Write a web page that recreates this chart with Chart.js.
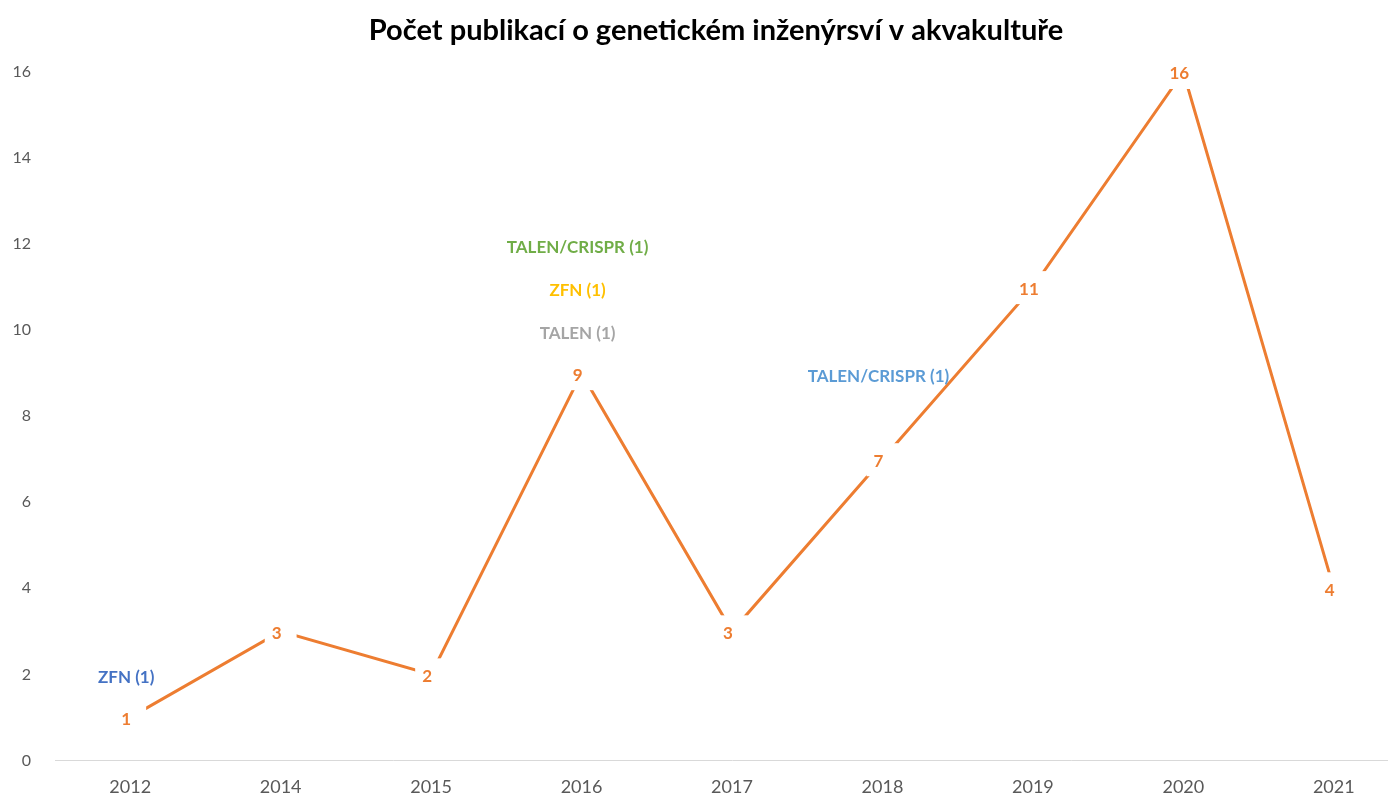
<!doctype html>
<html lang="cs">
<head>
  <title>Počet publikací</title>
  <meta charset="utf-8">
  <script src="https://cdn.jsdelivr.net/npm/chart.js@4"></script>
  <style>
    body { margin: 0; background: #fff; overflow: hidden; }
    #wrap { width: 1414px; height: 806px; }
  </style>
</head>
<body>
  <div id="wrap"><canvas id="pubChart"></canvas></div>

  <script>
    // data
    var years = ['2012', '2014', '2015', '2016', '2017', '2018', '2019', '2020', '2021'];
    var publications = [1, 3, 2, 9, 3, 7, 11, 16, 4];

    // method notes placed above the line (one value each)
    var zfnBlue = [2, null, null, null, null, null, null, null, null];
    var talenCrisprGreen = [null, null, null, 12, null, null, null, null, null];
    var zfnGold = [null, null, null, 11, null, null, null, null, null];
    var talenGray = [null, null, null, 10, null, null, null, null, null];
    var talenCrisprBlue = [null, null, null, null, null, 9, null, null, null];

    var yTicks = [0, 2, 4, 6, 8, 10, 12, 14, 16];

    var orange = '#ED7D31';

    function note(label, data, color) {
      return {
        label: label, data: data, showLine: false,
        pointRadius: 0, pointHoverRadius: 0,
        borderColor: color, backgroundColor: color, note: true
      };
    }

    // draws value labels (white box behind) and the note texts
    var labelPlugin = {
      id: 'labels',
      afterDatasetsDraw: function (chart) {
        var ctx = chart.ctx;
        ctx.save();
        ctx.textAlign = 'center';
        ctx.textBaseline = 'middle';
        chart.data.datasets.forEach(function (ds, i) {
          var meta = chart.getDatasetMeta(i);
          meta.data.forEach(function (pt, j) {
            var v = ds.data[j];
            if (v === null) return;
            if (ds.note) {
              ctx.font = 'bold 17px Lato';
              ctx.fillStyle = ds.borderColor;
              ctx.fillText(ds.label, pt.x - 4, pt.y + 3);
            } else {
              ctx.font = 'bold 17px Lato';
              var t = String(v);
              var w = ctx.measureText(t).width;
              ctx.fillStyle = '#fff';
              ctx.fillRect(pt.x - w / 2 - 11, pt.y - 16, w + 22, 33);
              ctx.fillStyle = orange;
              ctx.fillText(t, pt.x - 4, pt.y + 2);
            }
          });
        });
        ctx.restore();
      }
    };

    var titlePlugin = {
      id: 'bigTitle',
      afterDraw: function (chart) {
        var ctx = chart.ctx;
        ctx.save();
        ctx.font = 'bold 29px Lato';
        ctx.fillStyle = '#000';
        ctx.textAlign = 'center';
        ctx.textBaseline = 'middle';
        ctx.fillText('Počet publikací o genetickém inženýrsví v akvakultuře', 716, 31);
        ctx.restore();
      }
    };

    var pubChart = new Chart(document.getElementById('pubChart'), {
      type: 'line',
      data: {
        labels: years,
        datasets: [
          {
            label: 'Počet publikací',
            data: publications,
            borderColor: orange,
            borderWidth: 3,
            pointRadius: 0,
            tension: 0,
            fill: false
          },
          note('ZFN (1)', zfnBlue, '#4472C4'),
          note('TALEN/CRISPR (1)', talenCrisprGreen, '#70AD47'),
          note('ZFN (1)', zfnGold, '#FFC000'),
          note('TALEN (1)', talenGray, '#A5A5A5'),
          note('TALEN/CRISPR (1)', talenCrisprBlue, '#5B9BD5')
        ]
      },
      options: {
        responsive: true,
        maintainAspectRatio: false,
        animation: false,
        layout: { padding: { top: 72, left: 0, right: 5, bottom: 0 } },
        plugins: {
          legend: { display: false },
          tooltip: { enabled: false }
        },
        scales: {
          x: {
            offset: true,
            grid: { display: false },
            border: { display: true, color: '#D9D9D9', width: 1 },
            ticks: { color: '#595959', font: { family: 'Lato', size: 18 }, padding: 8 }
          },
          y: {
            min: 0,
            max: 16,
            afterBuildTicks: function (axis) {
              axis.ticks = yTicks.map(function (v) { return { value: v }; });
            },
            afterFit: function (axis) { axis.width = 55; },
            grid: { display: false },
            border: { display: false },
            ticks: { color: '#595959', font: { family: 'Lato', size: 16 }, padding: 16 }
          }
        }
      },
      plugins: [labelPlugin, titlePlugin]
    });
  </script>
</body>
</html>
